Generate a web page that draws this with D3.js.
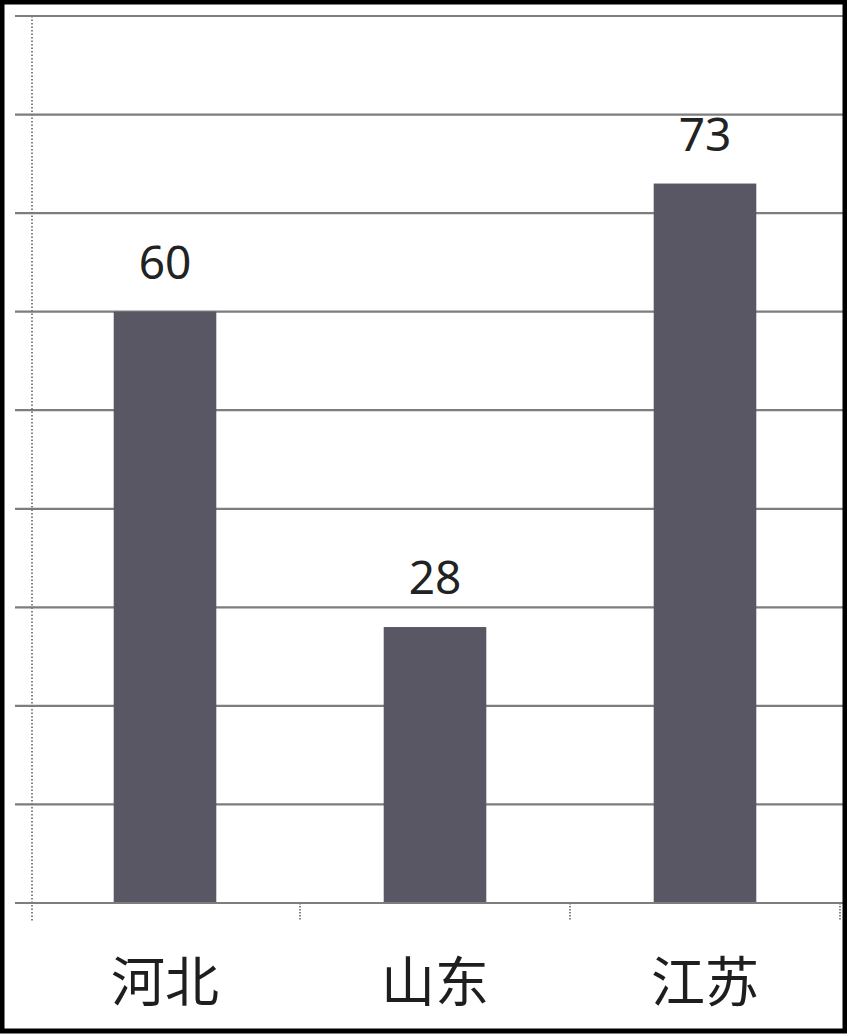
<!DOCTYPE html>
<html>
<head>
<meta charset="utf-8">
<script src="https://cdn.jsdelivr.net/npm/d3@7/dist/d3.min.js"></script>
<style>
  html, body { margin: 0; padding: 0; background: #fff; }
  svg { display: block; }
</style>
</head>
<body>
<svg id="chart" width="847" height="1034"></svg>
<script>
// Data
const categories = ["河北", "山东", "江苏"];
const values = [60, 28, 73];
const yTicks = [10, 20, 30, 40, 50, 60, 70, 80, 90];

const W = 847, H = 1034;
const svg = d3.select("#chart");

svg.append("rect").attr("x", 0).attr("y", 0).attr("width", W).attr("height", H).attr("fill", "#fff");

const x = d3.scaleBand().domain(categories).range([30, 840]).paddingInner(0.62).paddingOuter(0.31);
const y = d3.scaleLinear().domain([0, 90]).range([903, 16]);

// gridlines
svg.append("g").selectAll("line").data(yTicks).join("line")
  .attr("x1", 15).attr("x2", W)
  .attr("y1", d => y(d)).attr("y2", d => y(d))
  .attr("stroke", "#7d7d7d").attr("stroke-width", 2.2);

// y axis (dotted)
svg.append("line")
  .attr("x1", 32).attr("x2", 32).attr("y1", y(90)).attr("y2", 922)
  .attr("stroke", "#777").attr("stroke-width", 1.8).attr("stroke-dasharray", "1.5,2");

// bars
svg.append("g").selectAll("rect").data(values).join("rect")
  .attr("x", (d, i) => x(categories[i]))
  .attr("y", d => y(d))
  .attr("width", x.bandwidth())
  .attr("height", d => y(0) - y(d))
  .attr("fill", "#595763");

// baseline
svg.append("line")
  .attr("x1", 15).attr("x2", W).attr("y1", y(0)).attr("y2", y(0))
  .attr("stroke", "#7d7d7d").attr("stroke-width", 2.2);

// x-axis ticks at band boundaries
const step = x.step();
const boundaries = categories.map(c => x(c) + x.bandwidth() / 2 + step / 2);
svg.append("g").selectAll("line").data(boundaries).join("line")
  .attr("x1", d => d).attr("x2", d => d).attr("y1", y(0)).attr("y2", 920)
  .attr("stroke", "#777").attr("stroke-width", 1.8).attr("stroke-dasharray", "1.5,1.5");

// value labels
svg.append("g").selectAll("text").data(values).join("text")
  .attr("x", (d, i) => x(categories[i]) + x.bandwidth() / 2)
  .attr("y", d => y(d) - 33)
  .attr("text-anchor", "middle")
  .attr("font-family", "'Noto Sans', 'Open Sans', sans-serif")
  .attr("font-size", 46)
  .attr("fill", "#222")
  .text(d => d);

// category labels
svg.append("g").selectAll("text").data(categories).join("text")
  .attr("x", d => x(d) + x.bandwidth() / 2)
  .attr("y", 1002)
  .attr("text-anchor", "middle")
  .attr("font-family", "'Noto Sans CJK SC', sans-serif")
  .attr("font-size", 54)
  .attr("fill", "#1e1e1e")
  .text(d => d);

// black frame
svg.append("rect").attr("x", 2).attr("y", 2).attr("width", W - 4).attr("height", H - 5)
  .attr("fill", "none").attr("stroke", "#000").attr("stroke-width", 5);
</script>
</body>
</html>
